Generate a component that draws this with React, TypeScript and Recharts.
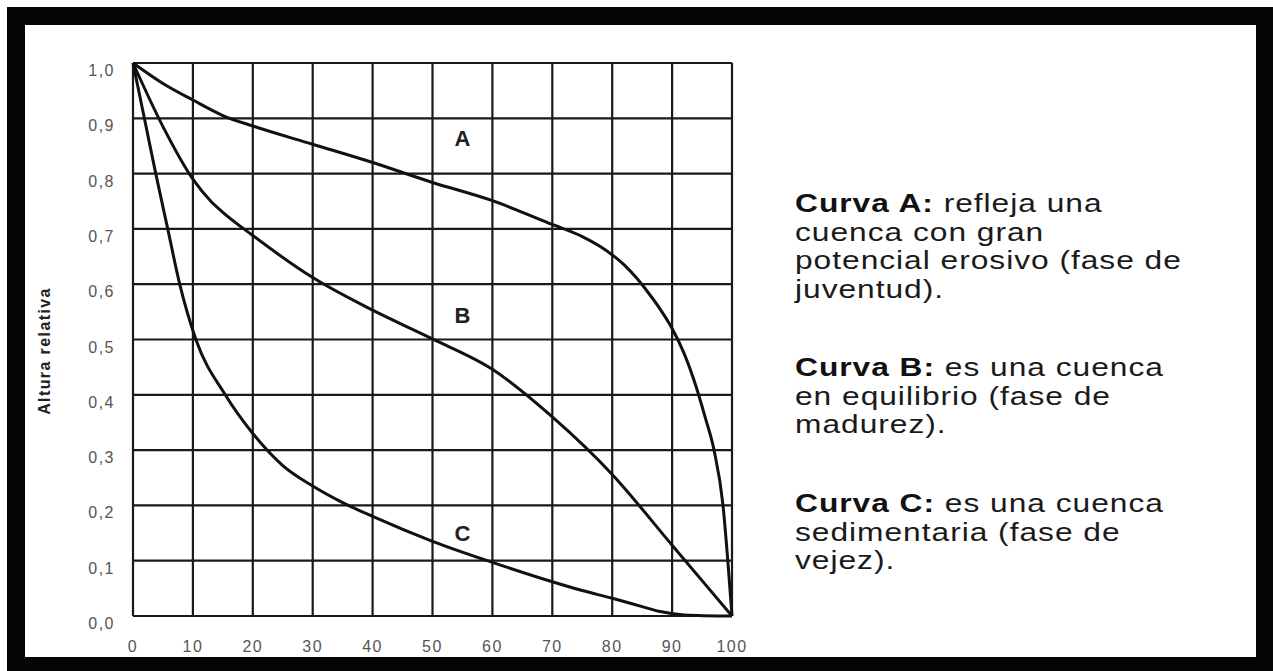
import React from "react";
import { LineChart, Line, XAxis, YAxis, CartesianGrid, ReferenceDot } from "recharts";

const xTicks = [0, 10, 20, 30, 40, 50, 60, 70, 80, 90, 100];
const yTicks = [0, 0.1, 0.2, 0.3, 0.4, 0.5, 0.6, 0.7, 0.8, 0.9, 1.0];

// curva A - juventud
const areaA = [0, 5, 10, 15, 20, 30, 40, 50, 60, 70, 75, 78, 80, 82, 84, 86, 88, 90, 92, 94, 95.5, 97, 98.5, 99.3, 100];
const alturaA = [1.0, 0.963, 0.933, 0.905, 0.886, 0.853, 0.82, 0.784, 0.751, 0.708, 0.686, 0.668, 0.653, 0.635, 0.612, 0.585, 0.555, 0.52, 0.475, 0.415, 0.36, 0.3, 0.2, 0.1, 0];

// curva B - madurez
const areaB = [0, 5, 10, 13, 15, 20, 30, 40, 50, 60, 70, 80, 90, 100];
const alturaB = [1.0, 0.885, 0.79, 0.75, 0.73, 0.688, 0.612, 0.553, 0.501, 0.446, 0.36, 0.256, 0.128, 0];

// curva C - vejez
const areaC = [0, 1.9, 3.8, 5.8, 7.8, 10.5, 15.4, 20, 25, 30, 35, 40, 50, 60, 70, 75, 80, 85, 88, 92, 100];
const alturaC = [1.0, 0.9, 0.8, 0.7, 0.6, 0.5, 0.4, 0.33, 0.272, 0.235, 0.205, 0.18, 0.135, 0.097, 0.062, 0.046, 0.032, 0.017, 0.008, 0.002, 0];

const curveNames = ["A", "B", "C"];
const curveLabelX = [55, 55, 55];
const curveLabelY = [0.864, 0.544, 0.15];

const yTitle = "Altura relativa";
const noteHeads = ["Curva A:", "Curva B:", "Curva C:"];
const noteLines = [
  ["refleja una", "cuenca con gran", "potencial erosivo (fase de", "juventud)."],
  ["es una cuenca", "en equilibrio (fase de", "madurez)."],
  ["es una cuenca", "sedimentaria (fase de", "vejez)."],
];
const noteTops = [189, 353, 489];

const toPoints = (xs: number[], ys: number[]) => xs.map((x, i) => ({ x, y: ys[i] }));
const curves = [toPoints(areaA, alturaA), toPoints(areaB, alturaB), toPoints(areaC, alturaC)];

const FONT = "'Liberation Sans', Arial, sans-serif";

const YTick = (props: any) => {
  const { x, y, payload } = props;
  return (
    <text x={x} y={y + 13} textAnchor="end" fontSize={16} fill="#555" letterSpacing={1.5} fontFamily={FONT}>
      {Number(payload.value).toFixed(1).replace(".", ",")}
    </text>
  );
};

const XTick = (props: any) => {
  const { x, y, payload } = props;
  return (
    <text x={x} y={y + 28} textAnchor="middle" fontSize={16} fill="#555" letterSpacing={1.5} fontFamily={FONT}>
      {payload.value}
    </text>
  );
};

export default function App() {
  return (
    <div style={{ position: "absolute", left: 0, top: 0, width: 1273, height: 671, background: "#fff" }}>
      <div style={{ position: "absolute", left: 7, top: 7, width: 1266, height: 664, background: "#050505" }} />
      <div style={{ position: "absolute", left: 25, top: 25, width: 1231, height: 632, background: "#fff" }} />

      <div style={{ position: "absolute", left: 0, top: 0 }}>
        <LineChart width={1273} height={671} margin={{ top: 63, right: 541, bottom: 15, left: 73 }}>
          <CartesianGrid stroke="#1a1a1a" strokeWidth={2.2} />
          <XAxis
            type="number"
            dataKey="x"
            domain={[0, 100]}
            ticks={xTicks}
            interval={0}
            height={40}
            axisLine={false}
            tickLine={false}
            tick={<XTick />}
          />
          <YAxis
            type="number"
            dataKey="y"
            domain={[0, 1]}
            ticks={yTicks}
            interval={0}
            width={60}
            axisLine={false}
            tickLine={false}
            tickMargin={12}
            tick={<YTick />}
          />
          {curves.map((c, i) => (
            <Line
              key={curveNames[i]}
              data={c}
              dataKey="y"
              type="monotone"
              stroke="#111"
              strokeWidth={3}
              dot={false}
              isAnimationActive={false}
            />
          ))}
          {curveNames.map((n, i) => (
            <ReferenceDot
              key={"lbl" + n}
              x={curveLabelX[i]}
              y={curveLabelY[i]}
              r={0}
              stroke="none"
              fill="none"
              label={{ value: n, position: "center", fontSize: 22, fontWeight: "bold", fill: "#222", fontFamily: FONT }}
            />
          ))}
        </LineChart>
      </div>

      <div
        style={{
          position: "absolute",
          left: 45,
          top: 351,
          transform: "translate(-50%, -50%) rotate(-90deg)",
          whiteSpace: "nowrap",
          fontFamily: FONT,
          fontWeight: "bold",
          fontSize: 16,
          letterSpacing: 1.4,
          color: "#222",
        }}
      >
        {yTitle}
      </div>

      {noteHeads.map((h, i) => (
        <div
          key={h}
          style={{
            position: "absolute",
            left: 795,
            top: noteTops[i],
            fontFamily: FONT,
            fontSize: 26,
            letterSpacing: 0.8,
            lineHeight: "28.5px",
            color: "#1a1a1a",
            whiteSpace: "nowrap",
            transform: "scaleX(1.22)",
            transformOrigin: "left top",
          }}
        >
          <b style={{ color: "#111" }}>{h}</b> {noteLines[i][0]}
          {noteLines[i].slice(1).map((l) => (
            <React.Fragment key={l}>
              <br />
              {l}
            </React.Fragment>
          ))}
        </div>
      ))}
    </div>
  );
}
